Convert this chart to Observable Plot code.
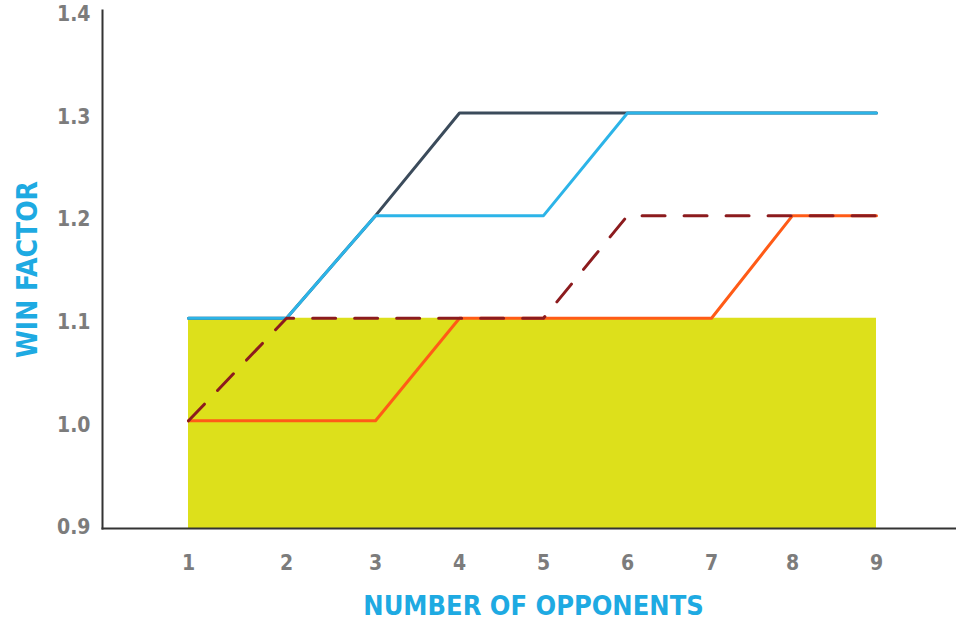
<!DOCTYPE html>
<html><head><meta charset="utf-8">
<script src="https://cdn.jsdelivr.net/npm/d3@7"></script>
<script src="https://cdn.jsdelivr.net/npm/@observablehq/plot@0.6"></script>
<style>
body{margin:0;background:#fff;}
#chart svg{display:block;}
</style>
</head><body><div id="chart"></div>
<script>
// ---- data ----
const opponents = [1, 2, 3, 4, 5, 6, 7, 8, 9];
const lightBlueSeries = [1.1, 1.1, 1.2, 1.2, 1.2, 1.3, 1.3, 1.3, 1.3];
const navySeries      = [1.1, 1.1, 1.2, 1.3, 1.3, 1.3, 1.3, 1.3, 1.3];
const dashedSeries    = [1.0, 1.1, 1.1, 1.1, 1.1, 1.2, 1.2, 1.2, 1.2];
const orangeSeries    = [1.0, 1.0, 1.0, 1.1, 1.1, 1.1, 1.1, 1.2, 1.2];
const bandTop = [1.1, 1.1, 1.1, 1.1, 1.1, 1.1, 1.1, 1.1, 1.1];
const yTicks = [0.9, 1.0, 1.1, 1.2, 1.3, 1.4];
const xTitle = "NUMBER OF OPPONENTS";
const yTitle = "WIN FACTOR";

// ---- layout (scale options) ----
const xRange = [188, 286, 375, 459, 543, 627, 711, 792, 876];
const yDomain = [0.895, 1.4];

const rows = vals => opponents.map((x, i) => ({x, y: vals[i]}));
const font = "'DejaVu Sans Condensed', 'DejaVu Sans', sans-serif";

const chart = Plot.plot({
  width: 956,
  height: 624,
  marginLeft: 102,
  marginRight: 0,
  marginTop: 10,
  marginBottom: 96,
  style: {fontFamily: font, background: "#fff"},
  x: {type: "linear", domain: opponents, range: xRange},
  y: {domain: yDomain},
  marks: [
    Plot.areaY(rows(bandTop), {x: "x", y1: yDomain[0], y2: "y", fill: "#dde01b"}),
    Plot.line(rows(orangeSeries), {x: "x", y: "y", stroke: "#ff5b17", strokeWidth: 3}),
    Plot.line(rows(navySeries), {x: "x", y: "y", stroke: "#3b4b5b", strokeWidth: 3}),
    Plot.line(rows(lightBlueSeries), {x: "x", y: "y", stroke: "#2cb4e8", strokeWidth: 3}),
    Plot.line(rows(dashedSeries), {x: "x", y: "y", stroke: "#8c1b1e", strokeWidth: 3, strokeDasharray: "23,19"}),
    Plot.axisX({ticks: opponents, tickSize: 0, tickPadding: 27, tickFormat: d => String(d),
      fontSize: 21, fontWeight: "bold", fill: "#7c7c7c", label: null}),
    Plot.axisY({ticks: yTicks, tickSize: 0, tickPadding: 12, tickFormat: d => d.toFixed(1),
      fontSize: 21, fontWeight: "bold", fill: "#7c7c7c", dy: 4, label: null}),
    Plot.frame({anchor: "left", stroke: "#333", strokeWidth: 2}),
    Plot.frame({anchor: "bottom", stroke: "#333", strokeWidth: 2}),
    Plot.text([xTitle], {frameAnchor: "bottom", text: d => d, dx: 4, dy: 86,
      fontSize: 27, fontWeight: "bold", fill: "#1eaae2"}),
    Plot.text([yTitle], {frameAnchor: "left", text: d => d, dx: -74, dy: 0, rotate: -90,
      textAnchor: "middle", fontSize: 28, fontWeight: "bold", fill: "#1eaae2"})
  ]
});
document.getElementById("chart").appendChild(chart);
</script>
</body></html>
